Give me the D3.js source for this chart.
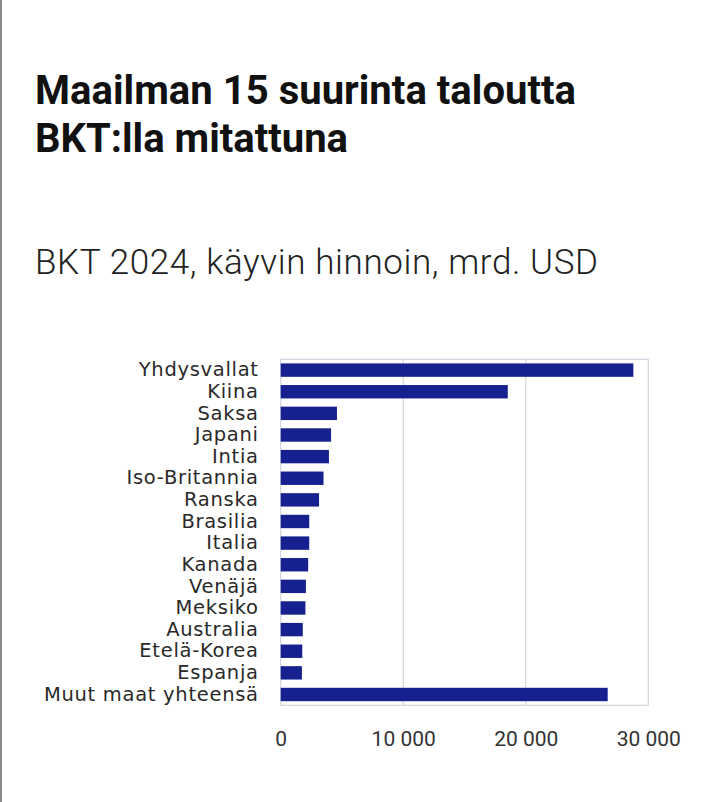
<!DOCTYPE html>
<html>
<head>
<meta charset="utf-8">
<script src="https://cdn.jsdelivr.net/npm/d3@7"></script>
<style>
  html, body { margin: 0; padding: 0; background: #fff; }
  svg { display: block; }
</style>
</head>
<body>
<svg id="chart" width="720" height="802"></svg>
<script>
const titleLines = ["Maailman 15 suurinta taloutta", "BKT:lla mitattuna"];
const subtitle = "BKT 2024, käyvin hinnoin, mrd. USD";
const categories = ["Yhdysvallat", "Kiina", "Saksa", "Japani", "Intia", "Iso-Britannia", "Ranska", "Brasilia", "Italia", "Kanada", "Venäjä", "Meksiko", "Australia", "Etelä-Korea", "Espanja", "Muut maat yhteensä"];
const values = [28781, 18532, 4591, 4110, 3937, 3495, 3130, 2331, 2328, 2242, 2057, 2017, 1802, 1760, 1731, 26685];
const tickValues = [0, 10000, 20000, 30000];
const tickLabels = ["0", "10 000", "20 000", "30 000"];

const svg = d3.select("#chart");

// left page border
svg.append("rect").attr("x", 0).attr("y", 0).attr("width", 2).attr("height", 802).attr("fill", "#8a8a8a");

const titleWidths = [541, 313];
titleLines.forEach((t, i) => {
  svg.append("text")
    .attr("x", 35).attr("y", 104 + i * 48)
    .attr("font-family", "Roboto, 'Liberation Sans', sans-serif")
    .attr("font-weight", 700)
    .attr("font-size", 40)
    .attr("fill", "#111")
    .attr("textLength", titleWidths[i])
    .attr("lengthAdjust", "spacing")
    .text(t);
});

svg.append("text")
  .attr("x", 35).attr("y", 274)
  .attr("font-family", "Roboto, 'Liberation Sans', sans-serif")
  .attr("font-weight", 300)
  .attr("font-size", 35)
  .attr("fill", "#222")
  .attr("textLength", 563)
  .attr("lengthAdjust", "spacing")
  .text(subtitle);

const margin = { left: 280.7, right: 648.3, top: 359.3, bottom: 705.3 };

const x = d3.scaleLinear().domain([0, 30000]).range([margin.left, margin.right]);
const y = d3.scaleBand().domain(categories).range([margin.top, margin.bottom]).paddingInner(0.38).paddingOuter(0.19);

const gridColor = "#cfd5de";
// gridlines
svg.append("g").selectAll("line").data(tickValues.slice(1, -1)).join("line")
  .attr("x1", d => x(d)).attr("x2", d => x(d))
  .attr("y1", margin.top).attr("y2", margin.bottom)
  .attr("stroke", gridColor).attr("stroke-width", 1.2);
// box
svg.append("rect")
  .attr("x", margin.left).attr("y", margin.top)
  .attr("width", margin.right - margin.left).attr("height", margin.bottom - margin.top)
  .attr("fill", "none").attr("stroke", gridColor).attr("stroke-width", 1.2);

// bars
svg.append("g").selectAll("rect").data(values).join("rect")
  .attr("x", x(0))
  .attr("y", (d, i) => y(categories[i]))
  .attr("width", d => x(d) - x(0))
  .attr("height", y.bandwidth())
  .attr("fill", "#17208f");

// y axis labels
const yAxis = d3.axisLeft(y).tickSize(0).tickPadding(22);
const gy = svg.append("g").attr("transform", `translate(${margin.left},0)`).call(yAxis);
gy.select(".domain").remove();
gy.selectAll("text")
  .attr("font-family", "'DejaVu Sans', sans-serif")
  .attr("font-size", 19.5)
  .attr("letter-spacing", 0.7)
  .attr("fill", "#2a2a2a");

// x axis labels
const xAxis = d3.axisBottom(x).tickValues(tickValues).tickSize(0).tickPadding(26)
  .tickFormat((d, i) => tickLabels[i]);
const gx = svg.append("g").attr("transform", `translate(0,${margin.bottom})`).call(xAxis);
gx.select(".domain").remove();
gx.selectAll("text")
  .attr("font-family", "Roboto, sans-serif")
  .attr("font-size", 21)
  .attr("fill", "#333");
</script>
</body>
</html>
